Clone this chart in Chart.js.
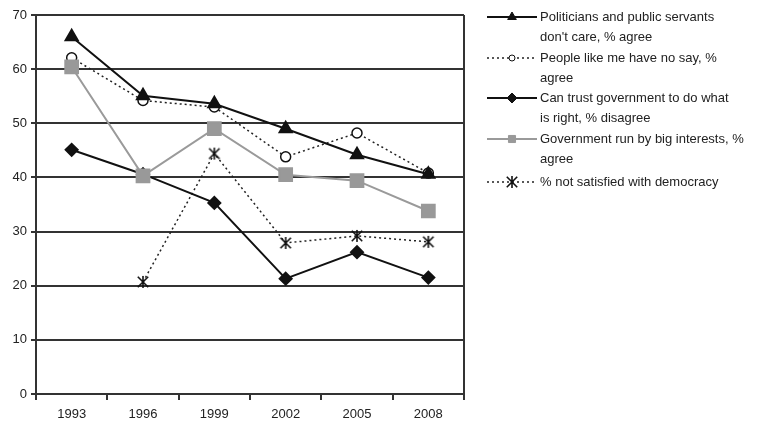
<!DOCTYPE html>
<html>
<head>
<meta charset="utf-8">
<script src="https://cdn.jsdelivr.net/npm/chart.js@4/dist/chart.umd.min.js"></script>
<style>
  html, body { margin: 0; padding: 0; background: #fff; }
  #wrap { width: 780px; height: 423px; position: relative; }
</style>
</head>
<body>
<div id="wrap"><canvas id="trustChart"></canvas></div>
<script>
const years = ['1993', '1996', '1999', '2002', '2005', '2008'];

const dontCare = [66.0, 55.1, 53.6, 49.0, 44.2, 40.6];
const noSay = [62.1, 54.2, 53.0, 43.8, 48.2, 40.8];
const trustGov = [45.1, 40.6, 35.3, 21.3, 26.2, 21.5];
const bigInterests = [60.4, 40.3, 49.0, 40.5, 39.4, 33.8];
const notSatisfied = [null, 20.7, 44.4, 27.9, 29.2, 28.1];

const seriesLabels = [
    ['Politicians and public servants', "don't care, % agree"],
    ['People like me have no say, %', 'agree'],
    ['Can trust government to do what', 'is right, % disagree'],
    ['Government run by big interests, %', 'agree'],
    ['% not satisfied with democracy']
];

const yTicks = [0, 10, 20, 30, 40, 50, 60, 70];

// asterisk marker: an X with a vertical bar
function asterisk(size) {
    const c = document.createElement('canvas');
    c.width = size; c.height = size;
    const g = c.getContext('2d');
    const m = size / 2, r = size / 2 - 1;
    g.strokeStyle = '#111';
    g.lineWidth = 1.6;
    g.beginPath();
    g.moveTo(m, m - r); g.lineTo(m, m + r);
    g.moveTo(m - r * 0.87, m - r * 0.87); g.lineTo(m + r * 0.87, m + r * 0.87);
    g.moveTo(m + r * 0.87, m - r * 0.87); g.lineTo(m - r * 0.87, m + r * 0.87);
    g.stroke();
    return c;
}
const starImg = asterisk(14);

const FONT = '"Liberation Sans", Arial, sans-serif';
Chart.defaults.font.family = FONT;
Chart.defaults.font.size = 13;
Chart.defaults.color = '#222';

// right-hand frame line of the plot box
const frame = {
    id: 'frame',
    afterDatasetsDraw(chart) {
        const { ctx, chartArea: a } = chart;
        ctx.save();
        ctx.strokeStyle = '#333';
        ctx.lineWidth = 2;
        ctx.beginPath();
        ctx.moveTo(a.right, a.top);
        ctx.lineTo(a.right, a.bottom);
        ctx.stroke();
        ctx.restore();
    }
};

// legend drawn beside the plot: line sample with marker, wrapped text
const sideLegend = {
    id: 'sideLegend',
    afterDraw(chart) {
        const ctx = chart.ctx;
        const x0 = 487, x1 = 537, tx = 540;
        const rows = [17, 58, 98, 139, 182];
        ctx.save();
        chart.data.datasets.forEach((ds, i) => {
            const y = rows[i];
            ctx.strokeStyle = ds.borderColor;
            ctx.lineWidth = ds.borderWidth;
            ctx.setLineDash(ds.borderDash || []);
            ctx.beginPath();
            ctx.moveTo(x0, y);
            ctx.lineTo(x1, y);
            ctx.stroke();
            ctx.setLineDash([]);
            ctx.fillStyle = ds.pointBackgroundColor;
            ctx.strokeStyle = ds.pointBorderColor;
            ctx.lineWidth = 1;
            Chart.helpers.drawPoint(ctx, {
                pointStyle: ds.pointStyle,
                radius: ds.legendRadius,
                rotation: 0,
                borderWidth: 1
            }, (x0 + x1) / 2, y);
            ctx.fillStyle = '#222';
            ctx.font = '13px ' + FONT;
            ctx.textBaseline = 'middle';
            ds.label.forEach((line, k) => ctx.fillText(line, tx, y + k * 20));
        });
        ctx.restore();
    }
};

const ctx = document.getElementById('trustChart').getContext('2d');
new Chart(ctx, {
    type: 'line',
    data: {
        labels: years,
        datasets: [{
            label: seriesLabels[0],
            data: dontCare,
            order: 0,
            borderColor: '#111',
            borderWidth: 2,
            pointStyle: 'triangle',
            pointRadius: 7,
            legendRadius: 5,
            pointBackgroundColor: '#111',
            pointBorderColor: '#111'
        }, {
            label: seriesLabels[1],
            data: noSay,
            order: 2,
            borderColor: '#222',
            borderWidth: 1.5,
            borderDash: [2, 3],
            pointStyle: 'circle',
            pointRadius: 5,
            legendRadius: 3,
            pointBackgroundColor: '#fff',
            pointBorderColor: '#111',
            pointBorderWidth: 1.5
        }, {
            label: seriesLabels[2],
            data: trustGov,
            order: 3,
            borderColor: '#111',
            borderWidth: 2,
            pointStyle: 'rectRot',
            pointRadius: 6,
            legendRadius: 5,
            pointBackgroundColor: '#111',
            pointBorderColor: '#111'
        }, {
            label: seriesLabels[3],
            data: bigInterests,
            order: 1,
            borderColor: '#9a9a9a',
            borderWidth: 2,
            pointStyle: 'rect',
            pointRadius: 9,
            legendRadius: 5,
            pointBackgroundColor: '#999',
            pointBorderColor: '#999'
        }, {
            label: seriesLabels[4],
            data: notSatisfied,
            order: 4,
            borderColor: '#222',
            borderWidth: 1.5,
            borderDash: [2, 3],
            pointStyle: starImg,
            pointRadius: 7,
            legendRadius: 7,
            pointBackgroundColor: '#111',
            pointBorderColor: '#111'
        }]
    },
    options: {
        responsive: true,
        maintainAspectRatio: false,
        animation: false,
        layout: { padding: { top: 15, right: 316, left: 0, bottom: 0 } },
        plugins: {
            legend: { display: false },
            tooltip: { enabled: false }
        },
        elements: { line: { tension: 0 } },
        scales: {
            x: {
                offset: true,
                grid: { drawOnChartArea: false, color: '#333', lineWidth: 2, tickLength: 6, offset: true },
                border: { color: '#333', width: 2 },
                ticks: { color: '#222', padding: 7 },
                afterFit(scale) { scale.height = 29; }
            },
            y: {
                min: 0,
                max: 70,
                afterBuildTicks(scale) { scale.ticks = yTicks.map(v => ({ value: v })); },
                grid: { color: '#333', lineWidth: 2, tickLength: 5 },
                border: { color: '#333', width: 2 },
                ticks: { color: '#222', padding: 4 },
                afterFit(scale) { scale.width = 36; }
            }
        }
    },
    plugins: [frame, sideLegend]
});
</script>
</body>
</html>
